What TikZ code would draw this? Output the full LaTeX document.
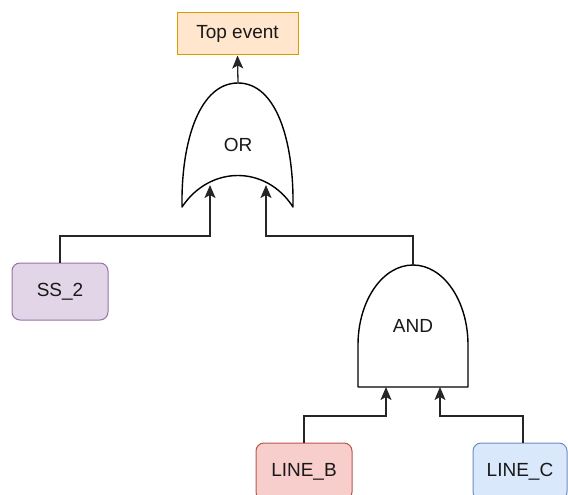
\documentclass[tikz,border=0pt]{standalone}
\usepackage{fontspec}
\setmainfont{Liberation Sans}
\usetikzlibrary{arrows.meta}
\definecolor{topfill}{HTML}{FFE6CC}\definecolor{topline}{HTML}{D79B00}
\definecolor{ssfill}{HTML}{E1D5E7}\definecolor{ssline}{HTML}{9673A6}
\definecolor{bfill}{HTML}{F8CECC}\definecolor{bline}{HTML}{B85450}
\definecolor{cfill}{HTML}{DAE8FC}\definecolor{cline}{HTML}{6C8EBF}
\tikzset{
  >={Stealth[length=13pt,width=11pt,inset=3pt]},
  wire/.style={draw=black!85, line width=1.3pt},
  flow/.style={wire, ->}}
\begin{document}
\begin{tikzpicture}[
  every node/.style={font=\fontsize{19}{22}\selectfont, text=black!90},
  event/.style={draw, line width=1pt, rounded corners=8pt, minimum width=96pt, minimum height=57pt, inner sep=0pt},
  topbox/.style={draw=topline, fill=topfill, line width=1pt, minimum width=121pt, minimum height=42pt, inner sep=0pt},
  gate/.style={draw=black, line width=1.4pt, line join=round}]
% positions are given in pixels, y growing downwards
\useasboundingbox (0pt,0pt) rectangle (568pt,-495pt);

% events
\node[topbox] (top) at (237.5pt,-34pt) {Top event};
\node[event, draw=ssline, fill=ssfill] (ss2) at (60pt,-291.5pt) {SS\_2};
\node[event, draw=bline, fill=bfill] (lineb) at (304pt,-471.5pt) {LINE\_B};
\node[event, draw=cline, fill=cfill, minimum width=94pt] (linec) at (520pt,-471.5pt) {LINE\_C};

% OR gate
\draw[gate] (182pt,-207pt) .. controls (181pt,-140pt) and (200pt,-83pt) .. (238pt,-83pt)
  .. controls (276pt,-83pt) and (294pt,-140pt) .. (293pt,-207pt)
  .. controls (266pt,-165pt) and (210pt,-165pt) .. cycle;
\node (or) at (238pt,-145pt) {OR};
\coordinate (orout) at (238pt,-83pt);
\coordinate (orin1) at (210pt,-185pt);
\coordinate (orin2) at (266pt,-185pt);
\coordinate (orbus) at (238pt,-236pt);

% AND gate
\draw[gate] (358pt,-387pt) -- (358pt,-345pt) .. controls (358pt,-300.8pt) and (382.6pt,-265pt) .. (413pt,-265pt)
  .. controls (443.4pt,-265pt) and (468pt,-300.8pt) .. (468pt,-345pt) -- (468pt,-387pt) -- cycle;
\node (and) at (413pt,-326pt) {AND};
\coordinate (andout) at (413pt,-265pt);
\coordinate (andin1) at (386pt,-387pt);
\coordinate (andin2) at (440pt,-387pt);
\coordinate (andbus) at (413pt,-416pt);
\coordinate (ctap) at (523pt,-443pt);

% connectors
\draw[flow] (orout) -- (top.south);
\draw[flow] (ss2.north) |- (orbus -| orin1) -- (orin1);
\draw[flow] (andout) |- (orbus -| orin2) -- (orin2);
\draw[flow] (lineb.north) |- (andbus -| andin1) -- (andin1);
\draw[flow] (ctap) |- (andbus -| andin2) -- (andin2);
\end{tikzpicture}
\end{document}
